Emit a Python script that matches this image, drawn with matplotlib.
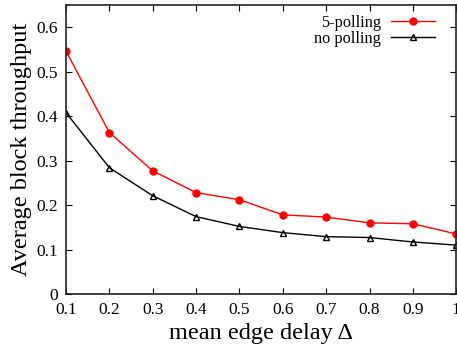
import matplotlib
matplotlib.use('Agg')
import matplotlib.pyplot as plt

delay = [0.1, 0.2, 0.3, 0.4, 0.5, 0.6, 0.7, 0.8, 0.9, 1.0]
polling5 = [0.546, 0.363, 0.277, 0.228, 0.212, 0.178, 0.173, 0.160, 0.158, 0.135]
no_polling = [0.408, 0.284, 0.221, 0.174, 0.152, 0.138, 0.129, 0.127, 0.117, 0.110]
xtick_labels = ['0.1', '0.2', '0.3', '0.4', '0.5', '0.6', '0.7', '0.8', '0.9', '1']
yticks = [0, 0.1, 0.2, 0.3, 0.4, 0.5, 0.6]
ytick_labels = ['0', '0.1', '0.2', '0.3', '0.4', '0.5', '0.6']

plt.rcParams['font.family'] = ['Liberation Serif', 'DejaVu Serif']

fig = plt.figure(figsize=(4.57, 3.47), dpi=100)
ax = fig.add_axes([0.1444, 0.1527, 0.854, 0.833])

ax.plot(delay, polling5, color='#ff0000', lw=1, marker='o', ms=5, label='5-polling')
ax.plot(delay, no_polling, color='black', lw=1, marker='^', ms=5,
        markerfacecolor='none', markeredgewidth=1, label='no polling')

ax.set_xlim(0.1, 1.0)
ax.set_ylim(0, 0.65)
ax.set_xticks(delay)
ax.set_xticklabels(xtick_labels)
ax.set_yticks(yticks)
ax.set_yticklabels(ytick_labels)
ax.tick_params(direction='in', top=True, right=True, labelsize=12.5, length=4, pad=6)
for s in ax.spines.values():
    s.set_linewidth(1.2)
    s.set_color('#222222')

ax.set_xlabel('mean edge delay Δ', fontsize=17.5, labelpad=3)
ax.set_ylabel('Average block throughput', fontsize=17.5, labelpad=3)

ax.legend(loc='upper right', frameon=False, markerfirst=False, fontsize=11.7,
          handlelength=2.7, borderaxespad=0.2, borderpad=0.4, labelspacing=0.0,
          handletextpad=0.6, bbox_to_anchor=(0.97, 1.0))

fig.savefig('out.png', dpi=100)
